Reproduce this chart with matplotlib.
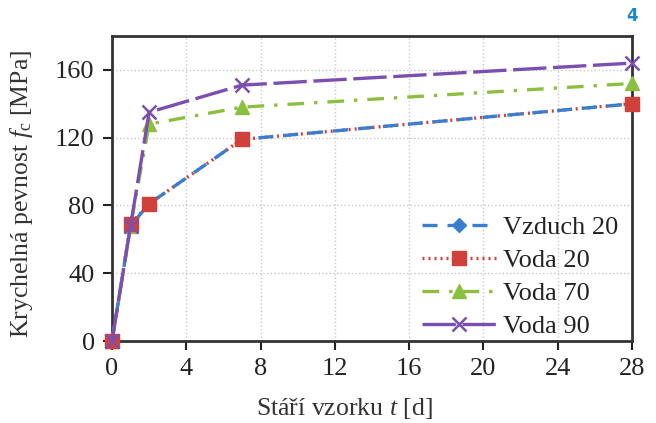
import matplotlib
matplotlib.use("Agg")
import matplotlib.pyplot as plt
from matplotlib.lines import Line2D

plt.rcParams['font.family'] = ['Liberation Serif', 'DejaVu Serif']
plt.rcParams['mathtext.fontset'] = 'custom'
plt.rcParams['mathtext.rm'] = 'Liberation Serif'
plt.rcParams['mathtext.it'] = 'Liberation Serif:italic'

days = [0, 1, 2, 7, 28]
vzduch20 = [0, 68, 81, 119, 140]
voda20 = [0, 69, 81, 119, 140]
voda70 = [0, 68, 128, 138, 152]
voda90 = [0, 68, 135, 151, 164]
xticks = [0, 4, 8, 12, 16, 20, 24, 28]
yticks = [0, 40, 80, 120, 160]

fig = plt.figure(figsize=(6.56, 4.23), dpi=100)
ax = fig.add_axes([112 / 656, 1 - 341 / 423, 520 / 656, 305 / 423])

lw = 2.4
c_blue, c_red, c_green, c_purple = '#3a7fcf', '#d0413b', '#8cbf3f', '#7b4fb0'
red_style = dict(color=c_red, lw=lw, linestyle=(0, (0.6, 1.2)))

# red dotted line lies beneath the blue dashed line
ax.plot(days, voda20, clip_on=False, zorder=2, **red_style)
ax.plot(days, vzduch20, color=c_blue, lw=lw, dashes=(4.5, 3), marker='D', ms=7,
        label='Vzduch 20', clip_on=False, zorder=3)
ax.plot(days, voda20, color=c_red, lw=0, marker='s', ms=10, clip_on=False, zorder=4)
ax.plot(days, voda70, color=c_green, lw=lw, dashes=(5, 3, 1, 3), marker='^', ms=10,
        label='Voda 70', clip_on=False, zorder=3)
ax.plot(days, voda90, color=c_purple, lw=lw, dashes=(10, 2), marker='x', ms=10, mew=1.8,
        label='Voda 90', clip_on=False, zorder=5)

ax.set_xlim(0, 28)
ax.set_ylim(0, 180)
ax.set_xticks(xticks)
ax.set_yticks(yticks)
ax.grid(True, color='#c8c8c8', linestyle=':', linewidth=1)
ax.tick_params(direction='out', length=6.5, width=1.5, labelsize=19, colors='#222222', pad=6)
for s in ax.spines.values():
    s.set_linewidth(2)
    s.set_color('#333333')

ax.set_xlabel('Stáří vzorku $\\mathit{t}$ [d]', fontsize=18.5, color='#333333')
ax.xaxis.set_label_coords(0.446, -0.22)
ax.xaxis.label.set_va('center')
ax.set_ylabel('Krychelná pevnost $\\mathit{f}_{\\mathrm{c}}$ [MPa]', fontsize=18.5, color='#333333')
ax.yaxis.set_label_coords(-0.148, 0.482)

handles, labels = ax.get_legend_handles_labels()
red_handle = Line2D([], [], marker='s', ms=10, **red_style)
handles.insert(1, red_handle)
labels.insert(1, 'Voda 20')
leg = ax.legend(handles, labels, loc='lower left', bbox_to_anchor=(0.56, -0.051), frameon=False,
                fontsize=19, handlelength=2.85, labelspacing=0.36, handletextpad=0.25, borderpad=0.2)
for t in leg.get_texts():
    t.set_color('#222222')

fig.text(0.964, 0.962, '4', color='#1e88c8', fontsize=12, fontweight='bold',
         family=['DejaVu Sans'], ha='center', va='center')

fig.savefig('out.png', dpi=100)
